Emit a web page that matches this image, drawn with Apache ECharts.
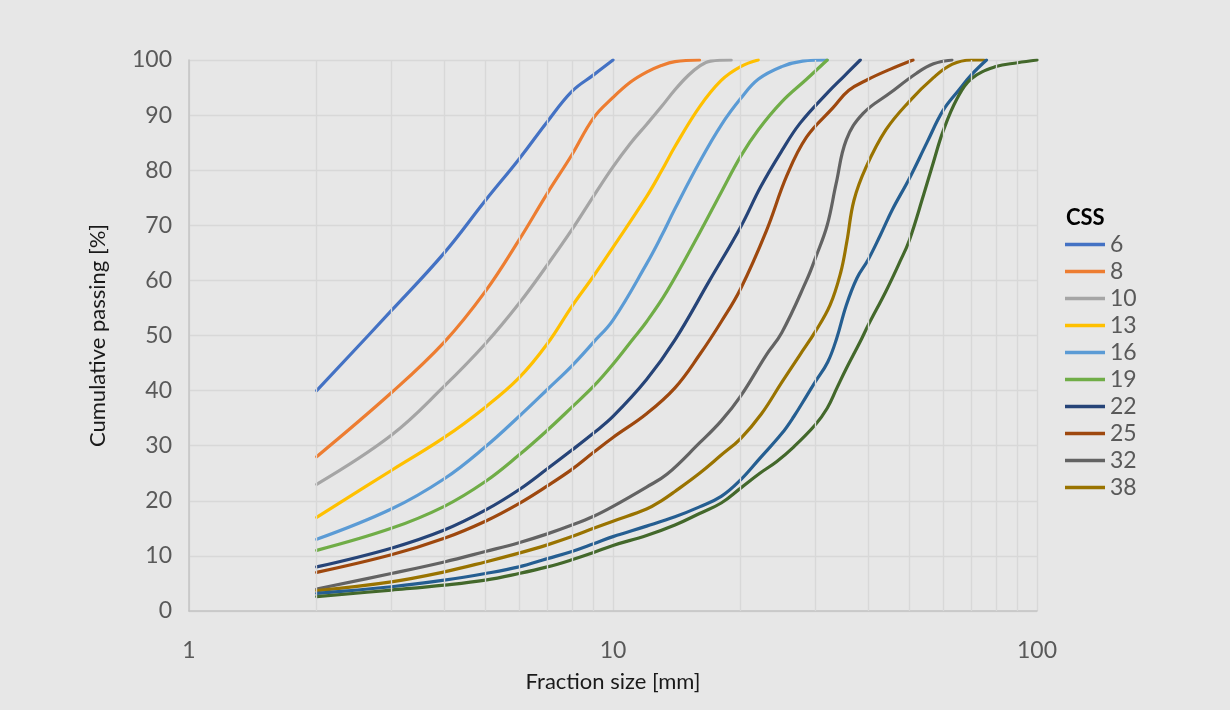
<!DOCTYPE html>
<html>
<head>
<meta charset="utf-8">
<script src="https://cdn.jsdelivr.net/npm/echarts@6/dist/echarts.min.js"></script>
<style>
html,body{margin:0;padding:0;background:#E7E7E7;}
#chart{width:1230px;height:710px;}
</style>
</head>
<body>
<div id="chart"></div>
<script>
// ---- data: [fraction size (mm), cumulative passing (%)] ----
const css6  = [[2,40],[3,54.5],[4,65],[5,74.5],[6,82],[7,88.8],[8,94.3],[9,97.3],[10,100]];
const css8  = [[2,28],[3,39.6],[4,48.8],[5,58],[6,67.3],[7,75.8],[8,82.8],[9,89.5],[10,93.2],[11,96],[12,97.8],[13,99],[14,99.7],[16,100]];
const css10 = [[2,23],[3,31.9],[4,40.8],[5,48.5],[6,55.8],[7,62.8],[8,69.2],[9,75.3],[10,80.6],[11,84.9],[12,88.3],[13,91.5],[14,94.6],[15,97.1],[16,98.9],[17,99.8],[19,100]];
const css13 = [[2,17],[3,25.5],[4,31.5],[5,37],[6,42.3],[7,48.5],[8,55.3],[9,60.8],[10,66],[12,75.2],[13,79.8],[14,84.3],[16,91.5],[18,96.3],[20,98.8],[22,100]];
const css16 = [[2,13],[3,18.5],[4,24],[5,29.8],[6,35.3],[7,40.2],[8,44.5],[9,48.8],[10,52.8],[12,63],[13,68],[14,73],[16,81.5],[18,88.2],[20,93],[22,96.5],[25,98.8],[28,99.8],[32,100]];
const css19 = [[2,11],[3,15],[4,19],[5,23.5],[6,28.3],[7,32.8],[8,37],[9,40.8],[10,44.8],[11.1,49.2],[12,52.5],[13.4,58],[16,68.6],[18,76],[20,82.5],[22,87.3],[25,92.4],[28.6,96.5],[32,100]];
const css22 = [[2,8],[3,11.4],[4,14.7],[5,18.3],[6,22],[7,25.8],[8,29.2],[9,32.3],[10,35.3],[12,42],[14,49.2],[16.9,60],[20,69.7],[22.3,77],[25,83.5],[27.6,88.5],[32,94],[35,97],[38.3,100]];
const css25 = [[2,7],[3,10.2],[4,13.2],[5,16.3],[6,19.5],[7,22.7],[8,25.7],[9,28.8],[10,31.5],[12,35.8],[14,40.5],[16,46.5],[18,52.5],[20,58.5],[23,69],[25.7,79],[28.6,86],[33,91.3],[36,94.5],[40,96.5],[45,98.3],[51,100]];
const css32 = [[2,4],[3,6.8],[4,8.9],[5,10.8],[6,12.4],[7,14],[8,15.6],[9,17.2],[10,19],[12,22.5],[13.4,24.8],[16,30.5],[18,34.5],[20,39],[23,46.5],[25,50.5],[28.6,60],[30,64],[32,70],[33.6,77.6],[35.5,85.5],[38.9,90.3],[45,94],[52,97.6],[57,99.3],[63,100]];
const css38 = [[2,3.7],[3,5.3],[4,7.1],[5,8.9],[6,10.5],[7,12],[8,13.5],[9,15],[10,16.3],[12,18.5],[13,20],[14,21.7],[16,25],[18,28.3],[20,31.3],[22.4,35.8],[25,41.5],[27.6,46.5],[30,50.7],[32.5,55.5],[34.4,61.3],[35.6,67],[37,74.5],[39.5,80.5],[44,87.3],[50,92.5],[57,96.8],[63,99.2],[70,100],[75,100]];
const css45 = [[2,3.2],[3,4.4],[4,5.6],[5,6.8],[6,8],[7,9.5],[8,10.8],[9,12.2],[10,13.5],[12,15.4],[14,17.1],[16,18.9],[18,20.8],[20,23.8],[22.2,27.7],[25,32.2],[26.7,35.3],[28.6,39],[30,41.6],[32.1,45.2],[33.7,49.5],[35.5,55.5],[37.6,60.4],[40,63.8],[42.7,68.2],[45.7,73],[50,78.5],[55,85],[60,90.8],[65.5,94.6],[70,97.3],[76,100]];
const css63 = [[2,2.6],[3,3.8],[4,4.7],[5,5.6],[6,6.8],[7,8],[8,9.3],[9,10.6],[10,11.9],[12,13.7],[14,15.6],[16,17.7],[18,19.6],[20,22.3],[22.2,25],[24.3,27.1],[26.7,29.8],[30,33.8],[32,36.8],[33.7,40.4],[35.5,44],[38.3,48.9],[40,51.9],[44,58],[47.5,63.4],[50,67.3],[54,75.5],[57,81.5],[60,87],[64.8,93],[70,96.6],[80,98.8],[90,99.5],[100,100]];

const seriesNames = ['6','8','10','13','16','19','22','25','32','38','45','63'];
const seriesData  = [css6,css8,css10,css13,css16,css19,css22,css25,css32,css38,css45,css63];
const legendNames = ['6','8','10','13','16','19','22','25','32','38'];
const colors = ['#4472C4','#ED7D31','#A5A5A5','#FFC000','#5B9BD5','#70AD47','#264478','#9E480E','#636363','#997300','#255E91','#43682B'];
const minorGridX = [2,3,4,5,6,7,8,9,20,30,40,50,60,70,80,90];

const FONT = 'Lato, "Noto Sans", sans-serif';
const chart = echarts.init(document.getElementById('chart'), null, {renderer:'canvas'});

const series = seriesNames.map((n,i)=>({
  name:n, type:'line', data:seriesData[i], smooth:0.4,
  showSymbol:false, symbol:'none', z:3,
  lineStyle:{color:colors[i], width:3.2, cap:'round', join:'round'},
  itemStyle:{color:colors[i]}
}));
series.push({
  name:'_grid', type:'line', data:[], silent:true, z:1,
  markLine:{silent:true, symbol:'none', label:{show:false},
    lineStyle:{color:'#D8D8D8', width:1.3, type:'solid'},
    data:minorGridX.map(v=>({xAxis:v}))}
});

chart.setOption({
  backgroundColor:'#E7E7E7',
  animation:false,
  color:colors,
  title:{text:'CSS', left:1061, top:202, textStyle:{fontFamily:FONT, fontSize:22, fontWeight:'bold', color:'#000'}},
  legend:{
    data:legendNames, orient:'vertical', left:1060, top:228,
    icon:'rect', itemWidth:40, itemHeight:3.5, itemGap:4,
    textStyle:{fontFamily:FONT, fontSize:23, lineHeight:23, color:'#595959'}
  },
  grid:{left:189, right:193, top:60, bottom:99, containLabel:false},
  xAxis:{
    type:'log', logBase:10, min:1, max:100,
    name:'Fraction size [mm]', nameLocation:'middle', nameGap:60,
    nameTextStyle:{fontFamily:FONT, fontSize:22, color:'#1a1a1a'},
    axisLine:{show:true, onZero:false, lineStyle:{color:'#C4C4C4', width:1.5}},
    axisTick:{show:false},
    axisLabel:{fontFamily:FONT, fontSize:23, color:'#595959', margin:28},
    splitLine:{show:true, lineStyle:{color:'#D8D8D8', width:1.3}}
  },
  yAxis:{
    type:'value', min:0, max:100, interval:10,
    name:'Cumulative passing [%]', nameLocation:'middle', nameGap:80,
    nameTextStyle:{fontFamily:FONT, fontSize:22, color:'#1a1a1a'},
    axisLine:{show:true, lineStyle:{color:'#C4C4C4', width:1.5}},
    axisTick:{show:false},
    axisLabel:{fontFamily:FONT, fontSize:23, color:'#595959', margin:17},
    splitLine:{show:true, lineStyle:{color:'#D8D8D8', width:1.3}}
  },
  series:series
});
</script>
</body>
</html>
